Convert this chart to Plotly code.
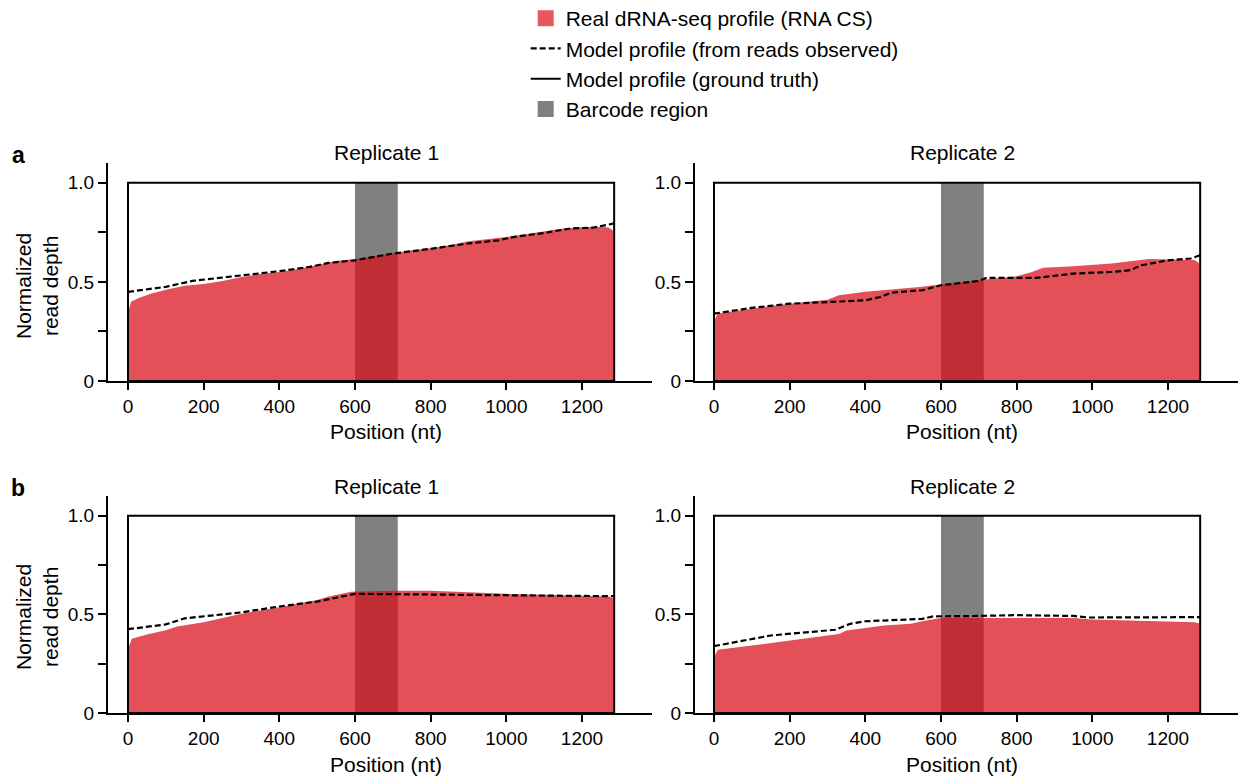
import plotly.graph_objects as go

W, H = 1238, 776
FONT = "Liberation Sans, Arial, Helvetica, sans-serif"


def px(xp):
    return xp / W


def py(yp):
    return 1 - yp / H


# ---------------- data ----------------
panel_labels = ["a", "b"]
replicate_titles = ["Replicate 1", "Replicate 2"]
x_ticks = [0, 200, 400, 600, 800, 1000, 1200]
y_ticks = [0, 0.25, 0.5, 0.75, 1.0]
y_ticktext = ["0", "", "0.5", "", "1.0"]
barcode_start, barcode_end = 600, 713
transcript_end = 1285

# panel a, replicate 1
a1_real_x = [2, 8, 30, 60, 100, 150, 200, 250, 300, 350, 400, 450, 500, 550, 600, 650, 700,
             750, 800, 850, 900, 950, 1000, 1050, 1100, 1150, 1200, 1250, 1270, 1282]
a1_real_y = [0.36, 0.40, 0.42, 0.44, 0.46, 0.48, 0.49, 0.505, 0.525, 0.54, 0.55, 0.565, 0.585,
             0.605, 0.615, 0.63, 0.645, 0.66, 0.67, 0.685, 0.705, 0.715, 0.727, 0.74, 0.755,
             0.77, 0.776, 0.778, 0.775, 0.76]
a1_model_x = [0, 100, 170, 300, 400, 480, 530, 600, 700, 800, 900, 980, 1020, 1100, 1170, 1230, 1285]
a1_model_y = [0.45, 0.475, 0.505, 0.534, 0.554, 0.576, 0.596, 0.609, 0.643, 0.667, 0.694, 0.71,
              0.727, 0.747, 0.77, 0.774, 0.795]

# panel a, replicate 2
a2_real_x = [2, 10, 100, 200, 300, 330, 400, 450, 500, 550, 600, 700, 800, 840, 870, 950, 1050,
             1150, 1250, 1270, 1282]
a2_real_y = [0.31, 0.34, 0.365, 0.39, 0.41, 0.433, 0.45, 0.458, 0.466, 0.475, 0.488, 0.508, 0.528,
             0.55, 0.572, 0.579, 0.593, 0.616, 0.613, 0.61, 0.595]
a2_model_x = [0, 100, 200, 300, 400, 440, 470, 550, 600, 700, 720, 850, 950, 1050, 1100, 1130,
              1200, 1260, 1285]
a2_model_y = [0.34, 0.369, 0.39, 0.399, 0.407, 0.424, 0.446, 0.458, 0.483, 0.505, 0.52, 0.52,
              0.542, 0.55, 0.559, 0.584, 0.609, 0.618, 0.635]

# panel b, replicate 1
b1_real_x = [2, 10, 50, 100, 130, 200, 300, 400, 500, 530, 590, 700, 800, 900, 1000, 1100, 1200,
             1270, 1282]
b1_real_y = [0.334, 0.376, 0.398, 0.42, 0.438, 0.46, 0.503, 0.536, 0.573, 0.59, 0.614, 0.62, 0.62,
             0.612, 0.604, 0.6, 0.595, 0.59, 0.582]
b1_model_x = [0, 100, 150, 200, 300, 400, 500, 600, 800, 1000, 1285]
b1_model_y = [0.425, 0.449, 0.48, 0.49, 0.51, 0.54, 0.565, 0.604, 0.6, 0.595, 0.592]

# panel b, replicate 2
b2_real_x = [2, 10, 100, 200, 300, 330, 350, 400, 450, 520, 560, 600, 700, 800, 950, 1000, 1100,
             1200, 1270, 1282]
b2_real_y = [0.292, 0.32, 0.342, 0.368, 0.393, 0.401, 0.418, 0.432, 0.443, 0.452, 0.469, 0.481,
             0.482, 0.481, 0.481, 0.474, 0.469, 0.464, 0.46, 0.455]
b2_model_x = [0, 100, 150, 250, 320, 360, 400, 550, 580, 700, 800, 950, 990, 1285]
b2_model_y = [0.339, 0.373, 0.393, 0.41, 0.422, 0.452, 0.465, 0.477, 0.49, 0.492, 0.496, 0.492,
              0.484, 0.486]

panels = [
    (a1_real_x, a1_real_y, a1_model_x, a1_model_y),
    (a2_real_x, a2_real_y, a2_model_x, a2_model_y),
    (b1_real_x, b1_real_y, b1_model_x, b1_model_y),
    (b2_real_x, b2_real_y, b2_model_x, b2_model_y),
]

# ---------------- styles ----------------
RED = "rgba(218,12,22,0.72)"
RED_SOLID = "rgb(231,88,92)"
GRAY = "#808080"
DASH = "6px,3px"

SCALE = 454 / 1200.0  # px per nt
x_domains = [[px(108), px(652)], [px(695), 1.0]]
x_ranges = [[-20 / SCALE, (652 - 128) / SCALE], [-19 / SCALE, (W - 714) / SCALE]]
y_domains = [[py(381), py(163)], [py(713), py(496)]]
y_range = [0, 1.1]
title_x = [682, 656]   # horizontal centre of titles (nt), per column
xtitle_y = [431, 764]  # vertical centre of the x-axis titles (px), per row

fig = go.Figure()

for i, (rx, ry, mx, my) in enumerate(panels):
    n = "" if i == 0 else str(i + 1)
    xa, ya = "x" + n, "y" + n
    fig.add_trace(go.Scatter(
        x=rx, y=ry, xaxis=xa, yaxis=ya, mode="lines", fill="tozeroy",
        fillcolor=RED, line=dict(width=0, color=RED), showlegend=False, hoverinfo="skip"))
    fig.add_trace(go.Scatter(
        x=mx, y=my, xaxis=xa, yaxis=ya, mode="lines",
        line=dict(color="black", width=2.2, dash=DASH),
        name="Model profile (from reads observed)", legendgroup="g2", legendrank=2,
        showlegend=(i == 0)))

# legend-only entries
fig.add_trace(go.Scatter(x=[None], y=[None], mode="markers",
                         marker=dict(symbol="square", size=16, color=RED_SOLID),
                         name="Real dRNA-seq profile (RNA CS)", legendgroup="g1", legendrank=1))
fig.add_trace(go.Scatter(x=[None], y=[None], mode="lines",
                         line=dict(color="black", width=2),
                         name="Model profile (ground truth)", legendgroup="g3", legendrank=3))
fig.add_trace(go.Scatter(x=[None], y=[None], mode="markers",
                         marker=dict(symbol="square", size=16, color=GRAY),
                         name="Barcode region", legendgroup="g4", legendrank=4))

layout = dict(
    width=W, height=H, margin=dict(l=0, r=0, t=0, b=0, autoexpand=False),
    paper_bgcolor="white", plot_bgcolor="white",
    font=dict(family=FONT, size=19, color="black"),
    showlegend=True,
    legend=dict(x=px(525.7), y=py(-2), xanchor="left", yanchor="top",
                font=dict(size=21, family=FONT), tracegroupgap=0,
                bgcolor="rgba(0,0,0,0)", itemsizing="trace"),
)

shapes = []
annotations = []
for i in range(4):
    row, col = divmod(i, 2)
    n = "" if i == 0 else str(i + 1)
    xa_key, ya_key = "xaxis" + n, "yaxis" + n
    layout[xa_key] = dict(
        domain=x_domains[col], anchor="y" + n, range=x_ranges[col],
        showline=True, linecolor="black", linewidth=2,
        ticks="outside", ticklen=7, tickwidth=2, tickcolor="black",
        tickvals=x_ticks, showgrid=False, zeroline=False,
        tickfont=dict(size=19, family=FONT))
    layout[ya_key] = dict(
        domain=y_domains[row], anchor="x" + n, range=y_range,
        showline=True, linecolor="black", linewidth=2,
        ticks="outside", ticklen=8, tickwidth=2, tickcolor="black",
        tickvals=y_ticks, ticktext=y_ticktext, showgrid=False, zeroline=False,
        tickfont=dict(size=19, family=FONT))
    xr, yr = "x" + n, "y" + n
    shapes.append(dict(type="rect", xref=xr, yref=yr, x0=barcode_start, x1=barcode_end,
                       y0=0, y1=1.0, fillcolor=GRAY, line=dict(width=0), layer="below"))
    shapes.append(dict(type="rect", xref=xr, yref=yr, x0=0, x1=transcript_end,
                       y0=0, y1=1.0, fillcolor="rgba(0,0,0,0)",
                       line=dict(color="black", width=2), layer="above"))
    # subplot title
    annotations.append(dict(text=replicate_titles[col], xref=xr, x=title_x[col],
                            yref="paper", y=py(153 if row == 0 else 486),
                            xanchor="center", yanchor="middle", showarrow=False,
                            font=dict(size=21, family=FONT)))
    # x-axis title
    annotations.append(dict(text="Position (nt)", xref=xr, x=title_x[col],
                            yref="paper", y=py(xtitle_y[row]),
                            xanchor="center", yanchor="middle", showarrow=False,
                            font=dict(size=21, family=FONT)))
    if col == 0:
        annotations.append(dict(text="Normalized<br>read depth", textangle=-90,
                                xref="paper", x=px(37),
                                yref="paper", y=py(286 if row == 0 else 617),
                                xanchor="center", yanchor="middle", showarrow=False,
                                font=dict(size=21, family=FONT)))
        annotations.append(dict(text="<b>%s</b>" % panel_labels[row], xref="paper", x=px(18),
                                yref="paper", y=py(155 if row == 0 else 488),
                                xanchor="center", yanchor="middle", showarrow=False,
                                font=dict(size=23, family=FONT)))

layout["shapes"] = shapes
layout["annotations"] = annotations
fig.update_layout(**layout)

# the figure fills the whole 1238x776 window: drop the page's default body margin
fig.write_html("out.html",
               config={"displayModeBar": False},
               post_script="document.body.style.margin='0';"
                           "document.body.style.overflow='hidden';")
